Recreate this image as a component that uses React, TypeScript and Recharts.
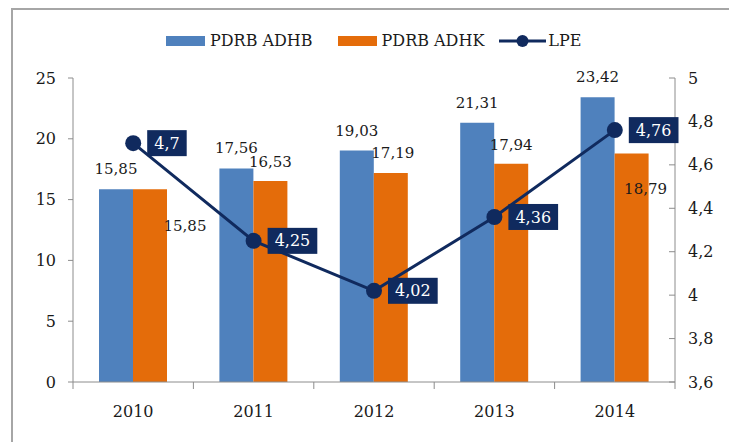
import { ComposedChart, Bar, Line, XAxis, YAxis, Legend, LabelList } from "recharts"

const years = ["2010", "2011", "2012", "2013", "2014"]
const adhb = [15.85, 17.56, 19.03, 21.31, 23.42]
const adhk = [15.85, 16.53, 17.19, 17.94, 18.79]
const lpe = [4.7, 4.25, 4.02, 4.36, 4.76]
const leftTicks = [0, 5, 10, 15, 20, 25]
const rightTicks = [3.6, 3.8, 4, 4.2, 4.4, 4.6, 4.8, 5]

const data = years.map((year, i) => ({ year, adhb: adhb[i], adhk: adhk[i], lpe: lpe[i] }))

const W = 729
const H = 442
const PLOT_LEFT = 73
const PLOT_RIGHT = 675
const BAND = (PLOT_RIGHT - PLOT_LEFT) / years.length

const FONT = '"DejaVu Serif", serif'
const BLUE = "#4F81BD"
const ORANGE = "#E46C0A"
const NAVY = "#102A5E"
const AXIS = "#8C8C8C"
const TEXT = "#1a1a1a"

// orange labels are placed by hand in the original, offsets from bar top centre
const orangeOffsets = [
  [35, 36],
  [0, -19],
  [2, -20],
  [0, -19],
  [14, 35],
]

const fmt = (v: number) => String(v).replace(".", ",")

const box = (p: any) => {
  const vb = p.viewBox || {}
  return {
    x: vb.x ?? p.x,
    y: vb.y ?? p.y,
    width: vb.width ?? p.width ?? 0,
    height: vb.height ?? p.height ?? 0,
  }
}

const BlueLabel = (p: any) => {
  const { x, y, width } = box(p)
  return (
    <text x={x + width / 2} y={y - 15} textAnchor="middle" fontSize={15} fontFamily={FONT} fill={TEXT}>
      {fmt(p.value)}
    </text>
  )
}

const OrangeLabel = (p: any) => {
  const { x, y, width } = box(p)
  const i = p.index ?? adhk.indexOf(p.value)
  const [dx, dy] = orangeOffsets[i] || [0, -19]
  return (
    <text
      x={x + width / 2 + dx}
      y={y + dy}
      dy="0.35em"
      textAnchor="middle"
      fontSize={15}
      fontFamily={FONT}
      fill={TEXT}
    >
      {fmt(p.value)}
    </text>
  )
}

const LpeLabel = (p: any) => {
  const { x, y } = box(p)
  const label = fmt(p.value)
  const tw = [...label].reduce((s, c) => s + (c === "," ? 5.1 : 10.2), 0)
  const bw = tw + 14
  const bh = 26
  const bx = x + 14
  return (
    <g>
      <rect x={bx} y={y - bh / 2} width={bw} height={bh} fill={NAVY} />
      <text
        x={bx + bw / 2}
        y={y}
        dy="0.35em"
        textAnchor="middle"
        fontSize={16}
        fontFamily={FONT}
        fill="#ffffff"
      >
        {label}
      </text>
    </g>
  )
}

const XTick = (p: any) => {
  const { x, y, index, payload } = p
  const axisY = y - 24
  return (
    <g>
      <line x1={x - BAND / 2} x2={x - BAND / 2} y1={axisY} y2={axisY + 7} stroke={AXIS} />
      {index === years.length - 1 && (
        <line x1={x + BAND / 2} x2={x + BAND / 2} y1={axisY} y2={axisY + 7} stroke={AXIS} />
      )}
      <text x={x} y={y} dy="0.71em" textAnchor="middle" fontSize={16} fontFamily={FONT} fill={TEXT}>
        {payload.value}
      </text>
    </g>
  )
}

const RightTick = (p: any) => {
  const { x, y, payload } = p
  return (
    <g>
      <line x1={x - 19} x2={x - 13} y1={y} y2={y} stroke={AXIS} />
      <text x={x} y={y} dy="0.35em" textAnchor="start" fontSize={16} fontFamily={FONT} fill={TEXT}>
        {fmt(Math.round(payload.value * 10) / 10)}
      </text>
    </g>
  )
}

const LegendContent = () => (
  <div
    style={{
      display: "flex",
      alignItems: "center",
      paddingLeft: 166,
      fontFamily: FONT,
      fontSize: 16,
      color: TEXT,
      lineHeight: "20px",
    }}
  >
    <span style={{ width: 39, height: 10, background: BLUE, display: "inline-block", marginRight: 5 }} />
    <span style={{ marginRight: 25 }}>PDRB ADHB</span>
    <span style={{ width: 39, height: 10, background: ORANGE, display: "inline-block", marginRight: 5 }} />
    <span style={{ marginRight: 15 }}>PDRB ADHK</span>
    <svg width={47} height={16} style={{ marginRight: 2 }}>
      <line x1={0} x2={47} y1={8} y2={8} stroke={NAVY} strokeWidth={3} />
      <circle cx={23.5} cy={8} r={6} fill={NAVY} />
    </svg>
    <span>LPE</span>
  </div>
)

export default function App() {
  return (
    <div style={{ position: "fixed", left: 0, top: 0, width: W, height: H, background: "#fff" }}>
      <div
        style={{
          position: "absolute",
          left: 11,
          top: 8,
          right: 0,
          bottom: 0,
          borderLeft: "2px solid #A6A6A6",
          borderTop: "2px solid #A6A6A6",
        }}
      />
      <ComposedChart
        width={W}
        height={H}
        data={data}
        margin={{ top: 78, right: 0, bottom: 0, left: 0 }}
        barSize={34}
        barGap={0}
        style={{ position: "absolute", left: 0, top: 0 }}
      >
        <XAxis
          dataKey="year"
          height={60}
          tickSize={0}
          tickMargin={24}
          tick={<XTick />}
          axisLine={{ stroke: AXIS }}
          interval={0}
        />
        <YAxis
          yAxisId="left"
          width={73}
          domain={[0, 25]}
          ticks={leftTicks}
          interval={0}
          tickSize={5}
          tickMargin={12}
          axisLine={{ stroke: AXIS }}
          tickLine={{ stroke: AXIS }}
          tick={{ fill: TEXT, fontSize: 16, fontFamily: FONT }}
        />
        <YAxis
          yAxisId="right"
          orientation="right"
          width={54}
          domain={[3.6, 5]}
          ticks={rightTicks}
          interval={0}
          tickSize={0}
          tickMargin={13}
          axisLine={{ stroke: AXIS }}
          tickLine={false}
          tick={<RightTick />}
        />
        <Legend
          layout="horizontal"
          verticalAlign="middle"
          align="center"
          content={<LegendContent />}
          wrapperStyle={{ top: 31, left: 0, width: W, height: 20 }}
        />
        <Bar yAxisId="left" dataKey="adhb" name="PDRB ADHB" fill={BLUE} isAnimationActive={false}>
          <LabelList dataKey="adhb" content={<BlueLabel />} />
        </Bar>
        <Bar yAxisId="left" dataKey="adhk" name="PDRB ADHK" fill={ORANGE} isAnimationActive={false}>
          <LabelList dataKey="adhk" content={<OrangeLabel />} />
        </Bar>
        <Line
          yAxisId="right"
          dataKey="lpe"
          name="LPE"
          stroke={NAVY}
          strokeWidth={3}
          dot={{ r: 8, fill: NAVY, stroke: NAVY, strokeWidth: 0 }}
          isAnimationActive={false}
        >
          <LabelList dataKey="lpe" content={<LpeLabel />} />
        </Line>
      </ComposedChart>
    </div>
  )
}
